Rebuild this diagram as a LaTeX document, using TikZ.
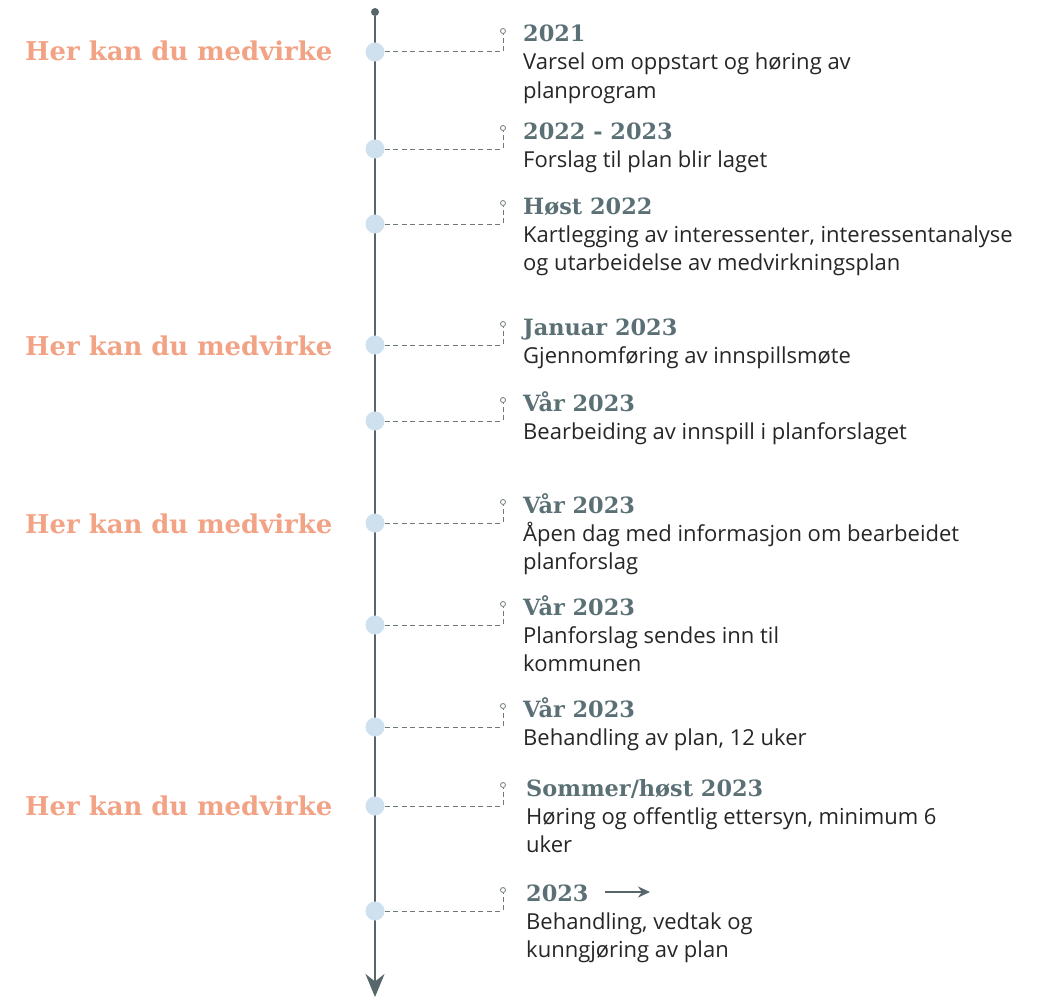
\documentclass[tikz,border=0pt]{standalone}
\usepackage{fontspec}
\setmainfont{Open Sans}
\newfontfamily\slab{DejaVu Serif}
\usetikzlibrary{arrows.meta}
\definecolor{lineC}{HTML}{56666B}
\definecolor{headC}{HTML}{5B7075}
\definecolor{dotC}{HTML}{CFE0EF}
\definecolor{orangeC}{HTML}{F2A385}
\definecolor{dashC}{HTML}{707A7E}
\tikzset{
  dot/.style={circle,fill=dotC,minimum size=19pt,inner sep=0pt},
  tinydot/.style={circle,draw=dashC,line width=0.8pt,fill=white,minimum size=5pt,inner sep=0pt},
  dashline/.style={draw=dashC,line width=1pt,dash pattern=on 5pt off 3.5pt},
  head/.style={anchor=base west,inner sep=0pt,font=\slab\bfseries\fontsize{22.4}{24}\selectfont,text=headC},
  body/.style={anchor=base west,inner sep=0pt,font=\fontsize{22}{24}\selectfont,text=black!85},
  here/.style={anchor=base west,inner sep=0pt,font=\slab\bfseries\fontsize{25.9}{28}\selectfont,text=orangeC},
}
\begin{document}
\begin{tikzpicture}[x=1pt,y=-1pt]
\useasboundingbox (0,0) rectangle (1041,998);
\node[circle,fill=lineC,minimum size=8pt,inner sep=0pt] (top) at (375,12) {};
\coordinate (bottom) at (375,997);
\draw[lineC,line width=2pt,-{Stealth[length=23pt,width=19pt]}] (top) -- (bottom);
% rows
\foreach \i/\cy in {1/52,2/149,3/224,4/345,5/421,6/523,7/625,8/727,9/806,10/911}{
  \node[dot] (c\i) at (375,\cy) {};
  \node[tinydot] (s\i) at (503,\cy-21) {};
  \draw[dashline] (c\i.east) -| (s\i.south);
}
% texts
\node[head] (h1) at (523,42) {2021};
\node[body] (b1a) at (523,70) {Varsel om oppstart og høring av};
\node[body] (b1b) at (523,98) {planprogram};
\node[head] (h2) at (523,139) {2022 - 2023};
\node[body] (b2a) at (523,167) {Forslag til plan blir laget};
\node[head] (h3) at (523,214) {Høst 2022};
\node[body] (b3a) at (523,242) {Kartlegging av interessenter, interessentanalyse};
\node[body] (b3b) at (523,270) {og utarbeidelse av medvirkningsplan};
\node[head] (h4) at (523,335) {Januar 2023};
\node[body] (b4a) at (523,363) {Gjennomføring av innspillsmøte};
\node[head] (h5) at (523,411) {Vår 2023};
\node[body] (b5a) at (523,439) {Bearbeiding av innspill i planforslaget};
\node[head] (h6) at (523,513) {Vår 2023};
\node[body] (b6a) at (523,541) {Åpen dag med informasjon om bearbeidet};
\node[body] (b6b) at (523,569) {planforslag};
\node[head] (h7) at (523,615) {Vår 2023};
\node[body] (b7a) at (523,643) {Planforslag sendes inn til};
\node[body] (b7b) at (523,671) {kommunen};
\node[head] (h8) at (523,717) {Vår 2023};
\node[body] (b8a) at (523,745) {Behandling av plan, 12 uker};
\node[head] (h9) at (526,796) {Sommer/høst 2023};
\node[body] (b9a) at (526,824) {Høring og offentlig ettersyn, minimum 6};
\node[body] (b9b) at (526,852) {uker};
\node[head] (h10) at (526,901) {2023};
\node[body] (b10a) at (526,929) {Behandling, vedtak og};
\node[body] (b10b) at (526,957) {kunngjøring av plan};
\coordinate (a1) at (605,892);
\coordinate (a2) at (650,892);
\draw[lineC,line width=1.8pt,-{Stealth[length=12pt,width=11pt]}] (a1) -- (a2);
% orange
\node[here] (m1) at (25,60) {Her kan du medvirke};
\node[here] (m2) at (25,355) {Her kan du medvirke};
\node[here] (m3) at (25,533) {Her kan du medvirke};
\node[here] (m4) at (25,815) {Her kan du medvirke};
\end{tikzpicture}
\end{document}
